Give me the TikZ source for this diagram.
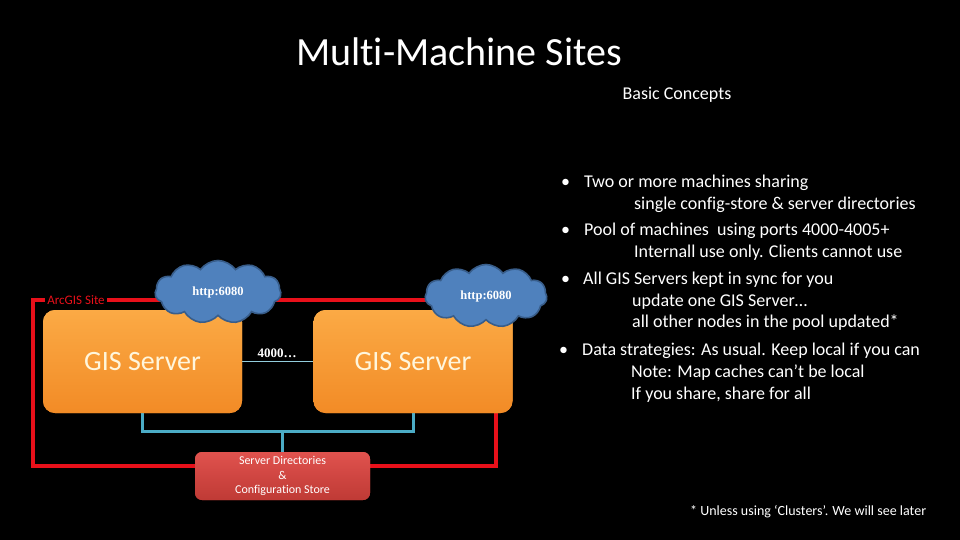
\documentclass[tikz,border=0pt]{standalone}
\usepackage{fontspec}
\setmainfont{Carlito}[RawFeature={-liga;-clig;-dlig}]
\newfontfamily\serifb{Liberation Serif}
\usetikzlibrary{shapes.symbols}
\definecolor{cloudblue}{HTML}{4F81BD}
\definecolor{cloudborder}{HTML}{385D8A}
\definecolor{linkblue}{HTML}{4BACC6}
\definecolor{sitered}{HTML}{E8101A}
\definecolor{orangetop}{HTML}{FBAA45}
\definecolor{orangebot}{HTML}{F28B26}
\definecolor{redtop}{HTML}{E0524E}
\definecolor{redbot}{HTML}{BF3A35}
\definecolor{servertext}{HTML}{FFF6DC}
\tikzset{
  srvbox/.style={rounded corners=12pt, top color=orangetop, bottom color=orangebot, draw=none,
    minimum width=199pt, minimum height=103pt, text=servertext, font=\fontsize{28}{32}\selectfont},
  storebox/.style={rounded corners=7pt, top color=redtop, bottom color=redbot, draw=none,
    minimum width=175pt, minimum height=48pt, text=white, font=\fontsize{12}{14.5}\selectfont, align=center},
  netcloud/.style={cloud, cloud puffs=11, cloud puff arc=110, aspect=2.1, fill=cloudblue, draw=cloudborder,
    line width=1.6pt, inner sep=0pt, text=white, font=\serifb\bfseries\fontsize{12.5}{14}\selectfont},
  bul/.style={anchor=west, text=white, font=\fontsize{18}{21}\selectfont, inner sep=0pt},
  redline/.style={draw=sitered, line width=4pt},
  blueline/.style={draw=linkblue, line width=3pt}
}
\begin{document}
\begin{tikzpicture}[x=1pt,y=-1pt]
\fill[black] (0,0) rectangle (960,540);
\useasboundingbox (0,0) rectangle (960,540);

% title
\node[text=white, font=\fontsize{40}{44}\selectfont] (title) at (459,52) {Multi-Machine Sites};
\node[text=white, font=\fontsize{18}{21}\selectfont] (sub) at (677,95) {Basic Concepts};

% red site outline
\coordinate (tl) at (33,300);
\coordinate (bl) at (33,466);
\coordinate (br) at (496,466);
\coordinate (tr) at (496,300);
\draw[redline] (tr) -- (tl) -- (bl) -- (br) -- (tr);

\node[fill=black, text=sitered, font=\fontsize{13}{15}\selectfont, inner sep=2pt] (site) at (76,300) {ArcGIS Site};

% servers and store
\node[srvbox] (s1) at (142.5,361.5) {GIS Server};
\node[srvbox] (s2) at (413,361.5) {GIS Server};
\node[storebox] (store) at (282.5,476) {Server Directories\\\&\\Configuration Store};

% connectors
\coordinate (j1) at (142,431);
\coordinate (j2) at (413,431);
\coordinate (jm) at (282,431);
\draw[blueline] (s1.south -| j1) -- (j1) -- (j2) -- (s2.south -| j2);
\draw[blueline] (jm) -- (store.north -| jm);
\draw[draw=linkblue!60!white, line width=0.8pt] (s1.east) -- (s2.west);
\node[text=white, font=\serifb\bfseries\fontsize{13}{15}\selectfont] (port) at (277,353) {4000…};

% redraw boxes above lines
\node[srvbox] at (142.5,361.5) {GIS Server};
\node[srvbox] at (413,361.5) {GIS Server};
\node[storebox] at (282.5,476) {Server Directories\\\&\\Configuration Store};

% clouds
\node[netcloud, minimum width=126pt, minimum height=63pt] (c1) at (218,292) {http:6080};
\node[netcloud, minimum width=122pt, minimum height=63pt] (c2) at (486,296) {http:6080};

% bullets
\node[bul] (b1) at (561,183) {•};
\node[bul] (t1) at (584,183) {Two or more machines sharing};
\node[bul] (t1b) at (634,205) {single config-store \& server directories};
\node[bul] (b2) at (561,231) {•};
\node[bul] (t2) at (584,231) {Pool of machines\ \ using ports 4000-4005+};
\node[bul] (t2b) at (634,253) {Internall use only. Clients cannot use};
\node[bul] (b3) at (561,280) {•};
\node[bul] (t3) at (583,280) {All GIS Servers kept in sync for you};
\node[bul] (t3b) at (632,302) {update one GIS Server…};
\node[bul] (t3c) at (632,323) {all other nodes in the pool updated*};
\node[bul] (b4) at (559,351) {•};
\node[bul] (t4) at (582,351) {Data strategies: As usual. Keep local if you can};
\node[bul] (t4b) at (631,373) {Note: Map caches can’t be local};
\node[bul] (t4c) at (631,395) {If you share, share for all};

\node[anchor=west, text=white, font=\fontsize{14}{16}\selectfont, inner sep=0pt] (foot) at (690,512) {* Unless using ‘Clusters’. We will see later};
\end{tikzpicture}
\end{document}
